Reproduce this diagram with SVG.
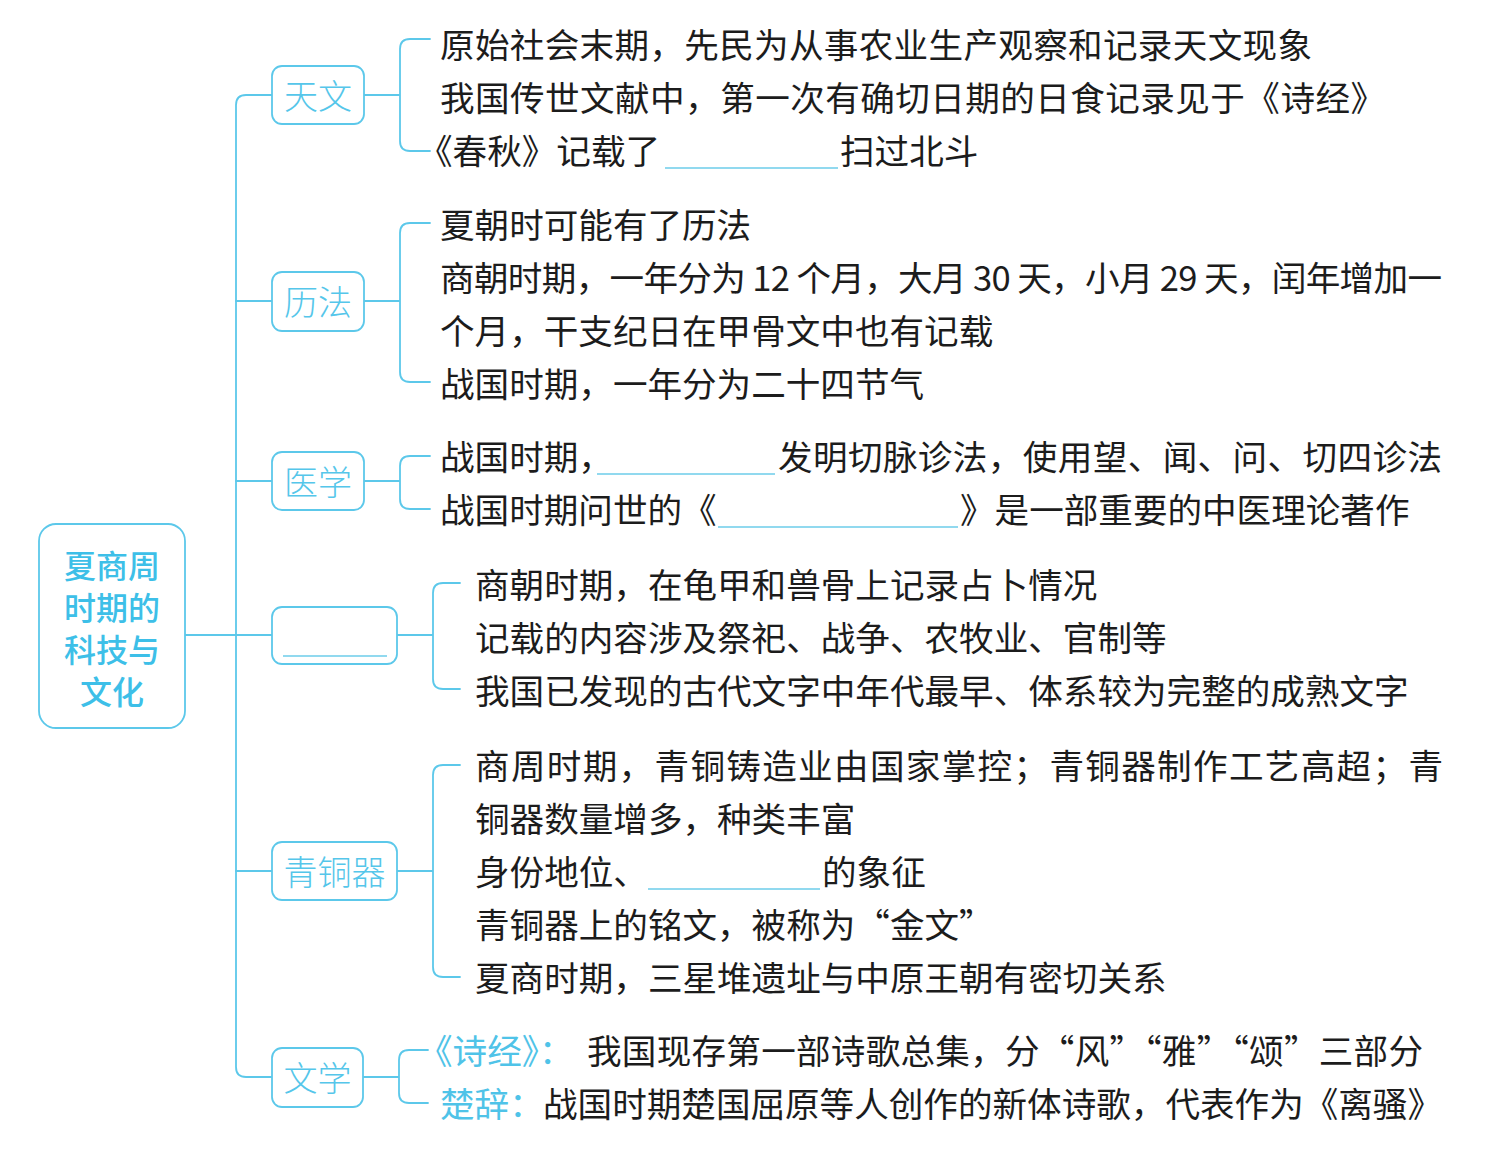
<svg xmlns="http://www.w3.org/2000/svg" width="1495" height="1161" viewBox="0 0 1495 1161">
<style>
.ln{fill:none;stroke:#5cc8ea;stroke-width:1.8;stroke-linecap:round}
.bx{fill:#fff;stroke:#5cc8ea;stroke-width:1.8}
.ul{stroke:#6ccdea;stroke-width:1.5}
.t{font-family:"Noto Sans CJK SC","Noto Sans",sans-serif;font-size:34.6px;fill:#1c1c1c;dominant-baseline:central}
.c{fill:#4fc3e8}
.cat{font-family:"Noto Sans CJK SC","Noto Sans",sans-serif;font-size:34px;font-weight:300;fill:#55c6ea;text-anchor:middle;dominant-baseline:central}
.root{font-family:"Noto Sans CJK SC","Noto Sans",sans-serif;font-size:32px;font-weight:500;fill:#3dbfe8;text-anchor:middle;dominant-baseline:central}
</style>
<rect width="1495" height="1161" fill="#fff"/>
<g id="connectors">
<path class="ln" d="M185,635 H236"/>
<path class="ln" d="M272,95 H246 Q236,95 236,105 V1067 Q236,1077 246,1077 H272"/>
<path class="ln" d="M236,301 H272 M236,481 H272 M236,635 H272 M236,871 H272"/>
<path class="ln" d="M364,95 H400 M430,39 H410 Q400,39 400,49 V141 Q400,151 410,151 H430"/>
<path class="ln" d="M364,301 H400 M430,223 H410 Q400,223 400,233 V372 Q400,382 410,382 H430"/>
<path class="ln" d="M364,481 H400 M430,456 H410 Q400,456 400,466 V499 Q400,509 410,509 H430"/>
<path class="ln" d="M397,635 H433 M460,583 H443 Q433,583 433,593 V679 Q433,689 443,689 H460"/>
<path class="ln" d="M397,871 H433 M460,765 H443 Q433,765 433,775 V967 Q433,977 443,977 H460"/>
<path class="ln" d="M363,1077 H399 M428,1050 H409 Q399,1050 399,1060 V1093 Q399,1103 409,1103 H428"/>
</g>
<g id="root">
<rect class="bx" x="39" y="524" width="146" height="204" rx="17"/>
<text class="root" x="112" y="564">夏商周</text>
<text class="root" x="112" y="606">时期的</text>
<text class="root" x="112" y="648">科技与</text>
<text class="root" x="112" y="690">文化</text>
</g>
<g id="tianwen">
<rect class="bx" x="272" y="66" width="92" height="58" rx="10"/>
<text class="cat" x="318" y="94">天文</text>
<text class="t" x="440" y="43" textLength="872" lengthAdjust="spacing">原始社会末期，先民为从事农业生产观察和记录天文现象</text>
<text class="t" x="440" y="96" textLength="945" lengthAdjust="spacing">我国传世文献中，第一次有确切日期的日食记录见于《诗经》</text>
<text class="t" x="418" y="149">《春秋》记载了</text>
<line class="ul" x1="665" y1="168" x2="838" y2="168"/>
<text class="t" x="840" y="149">扫过北斗</text>
</g>
<g id="lifa">
<rect class="bx" x="272" y="272" width="92" height="59" rx="10"/>
<text class="cat" x="318" y="300">历法</text>
<text class="t" x="440" y="223">夏朝时可能有了历法</text>
<text class="t" x="440" y="276" textLength="1002" lengthAdjust="spacing">商朝时期，一年分为 12 个月，大月 30 天，小月 29 天，闰年增加一</text>
<text class="t" x="440" y="329">个月，干支纪日在甲骨文中也有记载</text>
<text class="t" x="440" y="382">战国时期，一年分为二十四节气</text>
</g>
<g id="yixue">
<rect class="bx" x="272" y="452" width="92" height="58" rx="10"/>
<text class="cat" x="318" y="480">医学</text>
<text class="t" x="440" y="455">战国时期，</text>
<line class="ul" x1="597" y1="474" x2="775" y2="474"/>
<text class="t" x="778" y="455" textLength="664" lengthAdjust="spacing">发明切脉诊法，使用望、闻、问、切四诊法</text>
<text class="t" x="440" y="508">战国时期问世的《</text>
<line class="ul" x1="718" y1="527" x2="958" y2="527"/>
<text class="t" x="960" y="508">》是一部重要的中医理论著作</text>
</g>
<g id="jiaguwen">
<rect class="bx" x="272" y="607" width="125" height="57" rx="10"/>
<line class="ul" x1="283" y1="656" x2="387" y2="656"/>
<text class="t" x="475" y="583">商朝时期，在龟甲和兽骨上记录占卜情况</text>
<text class="t" x="475" y="636">记载的内容涉及祭祀、战争、农牧业、官制等</text>
<text class="t" x="475" y="689">我国已发现的古代文字中年代最早、体系较为完整的成熟文字</text>
</g>
<g id="qingtongqi">
<rect class="bx" x="272" y="842" width="125" height="58" rx="10"/>
<text class="cat" x="334.5" y="870">青铜器</text>
<text class="t" x="475" y="764" textLength="968" lengthAdjust="spacing">商周时期，青铜铸造业由国家掌控；青铜器制作工艺高超；青</text>
<text class="t" x="475" y="817">铜器数量增多，种类丰富</text>
<text class="t" x="475" y="870">身份地位、</text>
<line class="ul" x1="648" y1="889" x2="820" y2="889"/>
<text class="t" x="822" y="870">的象征</text>
<text class="t" x="475" y="923">青铜器上的铭文，被称为“金文”</text>
<text class="t" x="475" y="976">夏商时期，三星堆遗址与中原王朝有密切关系</text>
</g>
<g id="wenxue">
<rect class="bx" x="272" y="1048" width="91" height="59" rx="10"/>
<text class="cat" x="317.5" y="1076">文学</text>
<text class="t c" x="418" y="1049">《诗经》：</text>
<text class="t" x="587" y="1049" textLength="836" lengthAdjust="spacing">我国现存第一部诗歌总集，分“风”“雅”“颂”三部分</text>
<text class="t c" x="440" y="1102">楚辞：</text>
<text class="t" x="543" y="1102">战国时期楚国屈原等人创作的新体诗歌，代表作为《离骚》</text>
</g>
</svg>
